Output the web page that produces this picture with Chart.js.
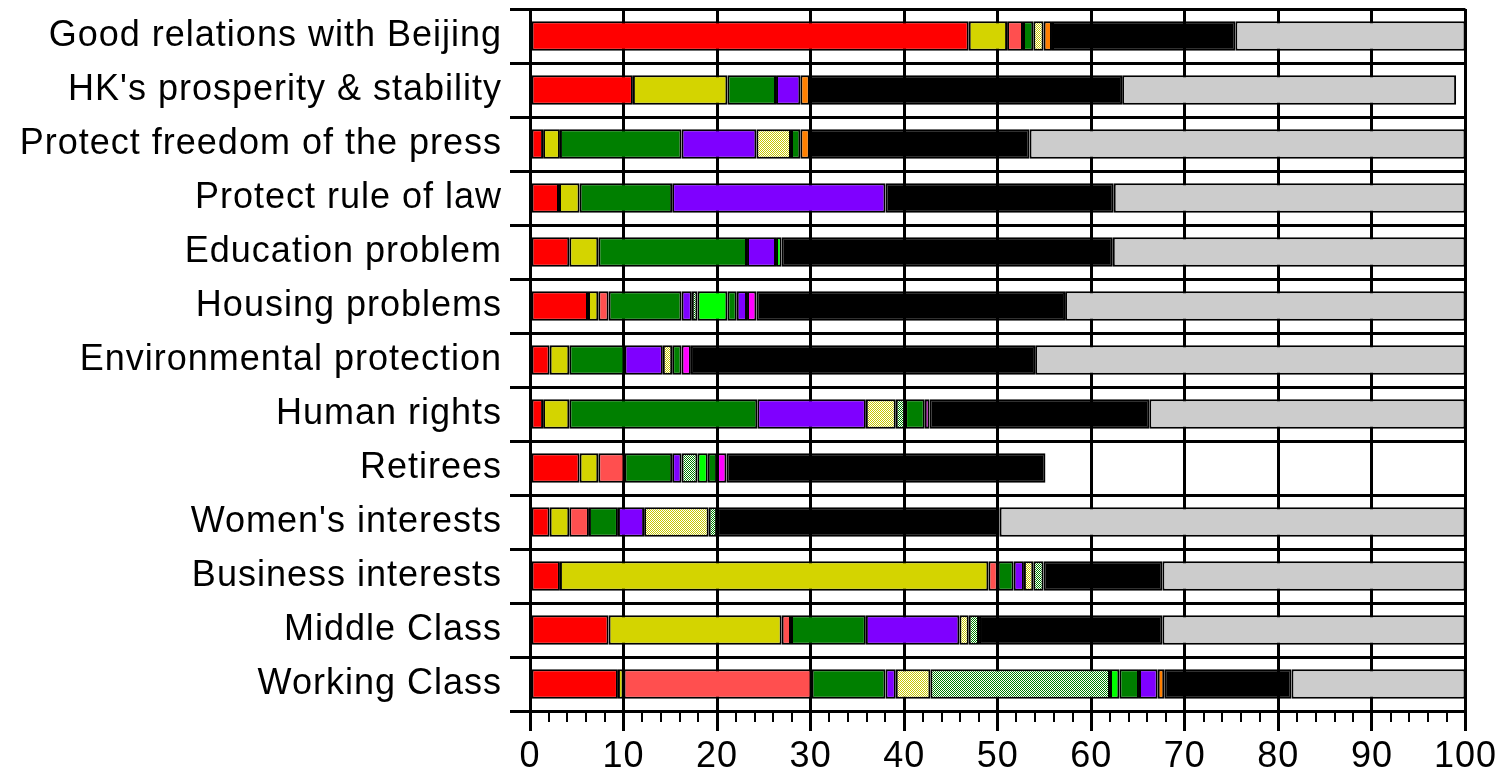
<!DOCTYPE html>
<html>
<head>
<meta charset="utf-8">
<script src="https://cdn.jsdelivr.net/npm/chart.js@4/dist/chart.umd.min.js"></script>
<style>
  html, body { margin: 0; padding: 0; background: #fff; }
  #wrap { width: 1501px; height: 772px; position: relative; }
</style>
</head>
<body>
<div id="wrap"><canvas id="chart"></canvas></div>
<script>
const categories = [
  "Good relations with Beijing",
  "HK's prosperity & stability",
  "Protect freedom of the press",
  "Protect rule of law",
  "Education problem",
  "Housing problems",
  "Environmental protection",
  "Human rights",
  "Retirees",
  "Women's interests",
  "Business interests",
  "Middle Class",
  "Working Class"
];

// percentages per category (null = no segment)
const red     = [46.9, 11.0, 1.4, 3.1, 4.2, 6.2, 2.1, 1.4, 5.3, 2.1, 3.2, 8.4, 9.4];
const yellow  = [4.1, 10.1, 1.8, 2.2, 3.1, 1.1, 2.1, 2.8, 2.0, 2.1, 45.8, 18.5, 0.6];
const salmon  = [1.7, null, null, null, null, 1.1, null, null, 2.8, 2.1, 1.0, 1.0, 20.1];
const green   = [1.1, 5.2, 13.0, 9.9, 15.9, 7.8, 5.9, 20.1, 5.1, 3.1, 1.7, 8.0, 7.9];
const purple  = [null, 2.6, 8.0, 22.8, 3.1, 1.1, 4.1, 11.6, 1.0, 2.8, 1.1, 10.0, 1.1];
const dotYellow = [1.1, null, 3.7, null, null, null, 1.0, 3.2, null, 6.9, 1.0, 1.0, 3.7];
const dotGreen  = [null, null, null, null, null, 0.6, null, 1.0, 1.7, 0.9, 1.1, 1.1, 19.2];
const lime    = [null, null, null, null, 0.6, 3.2, null, null, 1.1, null, null, null, 1.0];
const green2  = [null, null, 1.0, null, null, 1.0, 1.0, 2.1, 1.0, null, null, null, 2.1];
const purple2 = [null, null, null, null, null, 1.1, null, null, null, null, null, null, 2.0];
const magenta = [null, null, null, null, null, 1.0, 1.0, 0.5, 1.0, null, null, null, null];
const orange  = [0.9, 1.0, 1.0, null, null, null, null, null, null, null, null, null, 0.7];
const black   = [19.6, 33.4, 23.5, 24.4, 35.4, 33.0, 36.8, 23.5, 34.1, 30.2, 12.7, 19.6, 13.6];
const grey    = [24.6, 35.7, 46.6, 37.6, 37.7, 42.8, 46.0, 33.8, null, 49.8, 32.4, 32.4, 18.6];

const xTicks = [0, 10, 20, 30, 40, 50, 60, 70, 80, 90, 100];

// small checker pattern like the dithered fills
function dots(color) {
  const c = document.createElement("canvas");
  c.width = 2; c.height = 2;
  const g = c.getContext("2d");
  g.fillStyle = "#ffffff";
  g.fillRect(0, 0, 2, 2);
  g.fillStyle = color;
  g.fillRect(0, 0, 1, 1);
  g.fillRect(1, 1, 1, 1);
  return g.createPattern(c, "repeat");
}

const series = [
  ["S1", red, "#ff0000"],
  ["S2", yellow, "#d4d400"],
  ["S3", salmon, "#ff4f4f"],
  ["S4", green, "#007f00"],
  ["S5", purple, "#7f00ff"],
  ["S6", dotYellow, dots("#c8c800")],
  ["S7", dotGreen, dots("#007f00")],
  ["S8", lime, "#00ff00"],
  ["S9", green2, "#007f00"],
  ["S10", purple2, "#7f00ff"],
  ["S11", magenta, "#ff00ff"],
  ["S12", orange, "#ff7f00"],
  ["S13", black, "#000000"],
  ["S14", grey, "#cccccc"]
];

// the labels in the picture are a bit wider than plain Arial
const spacing = {
  id: "spacing",
  beforeLayout(chart) { chart.ctx.letterSpacing = "1px"; },
  beforeDraw(chart) { chart.ctx.letterSpacing = "1px"; }
};

// minor ticks every 2 units under the x axis
const minorTicks = {
  id: "minorTicks",
  afterDraw(chart) {
    const x = chart.scales.x;
    const ctx = chart.ctx;
    const y0 = chart.chartArea.bottom;
    ctx.save();
    ctx.strokeStyle = "#000";
    ctx.lineWidth = 2;
    for (let v = 2; v < 100; v += 2) {
      if (v % 10 === 0) continue;
      const px = Math.round(x.getPixelForValue(v));
      ctx.beginPath();
      ctx.moveTo(px, y0);
      ctx.lineTo(px, y0 + 11);
      ctx.stroke();
    }
    ctx.restore();
  }
};

new Chart(document.getElementById("chart"), {
  type: "bar",
  data: {
    labels: categories,
    datasets: series.map(([label, values, color]) => ({
      label: label,
      data: values,
      backgroundColor: color,
      borderColor: "#000",
      borderWidth: 2,
      borderSkipped: false,
      barPercentage: 0.55,
      categoryPercentage: 1
    }))
  },
  options: {
    indexAxis: "y",
    responsive: true,
    maintainAspectRatio: false,
    animation: false,
    layout: { padding: { top: 9, right: 35, bottom: 0, left: 0 } },
    plugins: {
      legend: { display: false },
      tooltip: { enabled: false }
    },
    scales: {
      x: {
        stacked: true,
        min: 0,
        max: 100,
        afterBuildTicks: (scale) => { scale.ticks = xTicks.map((v) => ({ value: v })); },
        afterFit: (scale) => { scale.height = 61; },
        grid: { color: "#000", lineWidth: 3, tickLength: 20, tickWidth: 3, tickColor: "#000" },
        border: { color: "#000", width: 3 },
        ticks: {
          color: "#000",
          padding: 4,
          font: { family: "'Liberation Sans', Arial, sans-serif", size: 36 }
        }
      },
      y: {
        stacked: true,
        afterFit: (scale) => {
          scale.width = 530;
          scale.paddingTop = 0;
          scale.paddingBottom = 0;
        },
        grid: { color: "#000", lineWidth: 3, tickLength: 20, offset: true },
        border: { color: "#000", width: 3 },
        ticks: {
          color: "#000",
          padding: 8,
          font: { family: "'Liberation Sans', Arial, sans-serif", size: 36 }
        }
      }
    }
  },
  plugins: [spacing, minorTicks]
});
</script>
</body>
</html>
